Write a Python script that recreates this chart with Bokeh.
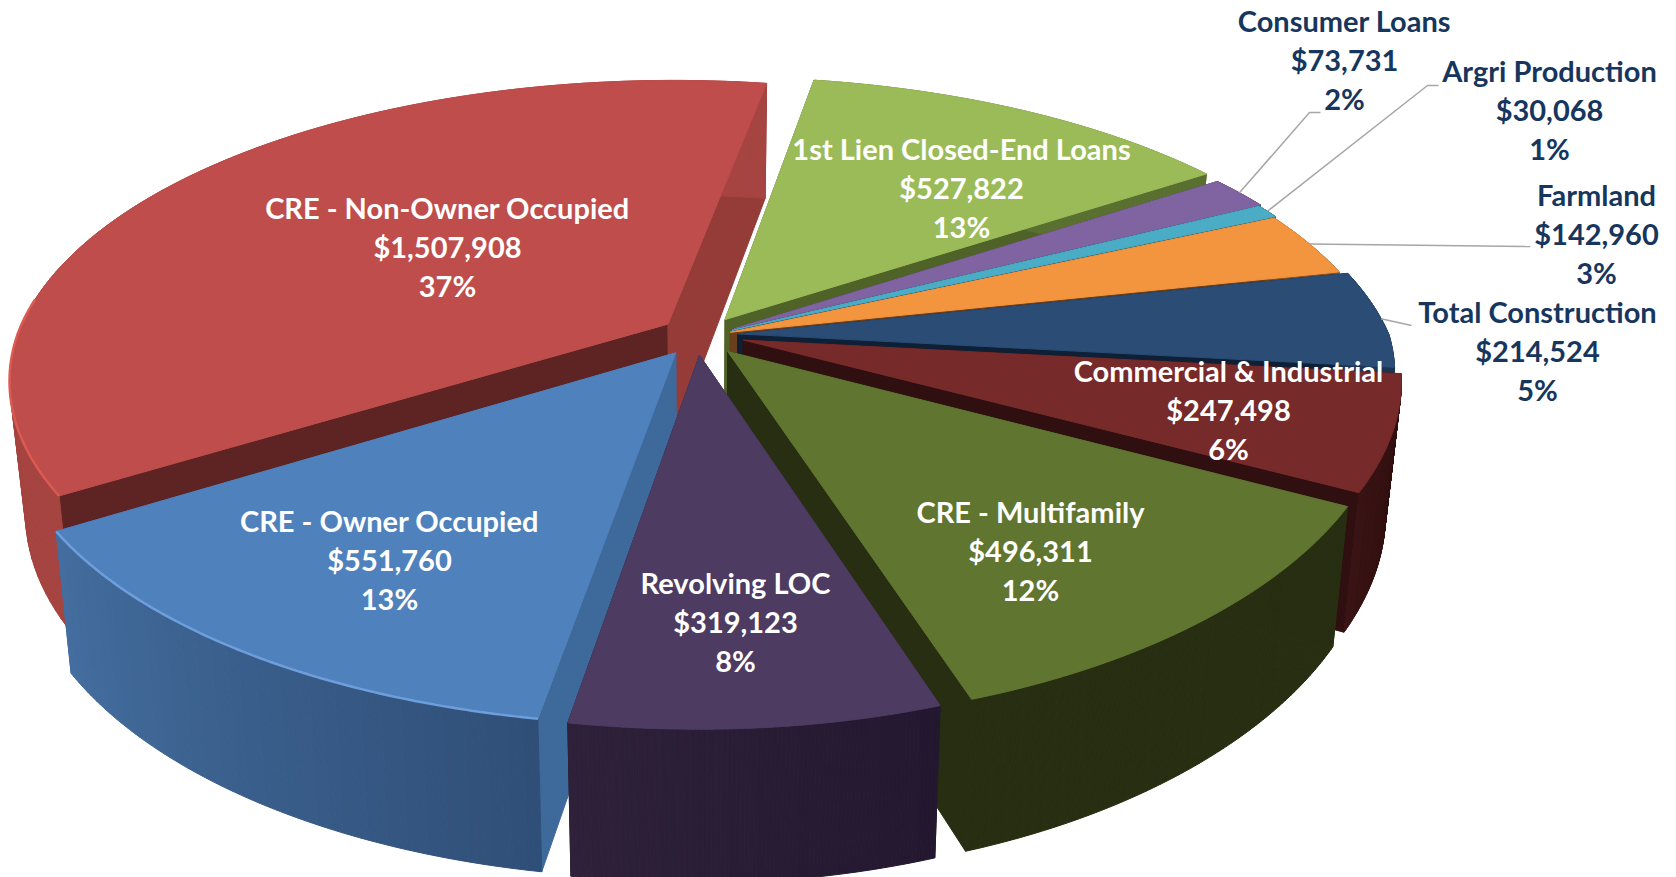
import numpy as np
from bokeh.plotting import figure
from bokeh.models import Range1d
from bokeh.core.properties import value
from bokeh.embed import file_html
from bokeh.resources import INLINE

# ---- data (clockwise from the top of the pie)
categories = ["1st Lien Closed-End Loans", "Consumer Loans", "Argri Production", "Farmland",
              "Total Construction", "Commercial & Industrial", "CRE - Multifamily",
              "Revolving LOC", "CRE - Owner Occupied", "CRE - Non-Owner Occupied"]
amounts = [527822, 73731, 30068, 142960, 214524, 247498, 496311, 319123, 551760, 1507908]
percents = ["13%", "2%", "1%", "3%", "5%", "6%", "12%", "8%", "13%", "37%"]

# ---- style
top_colors = ["#9BBB59", "#8064A2", "#4BACC6", "#F3943F", "#2B4C74", "#772A2A", "#60752F", "#4D3B62", "#4F81BD", "#BE4D4B"]
start_walls = ["#4F6228", "#3F2F55", "#1F5A6B", "#6B3F1C", "#0E2036", "#2F0F0F", "#272E11", "#2D2038", "#3E6A9B", "#5E2323"]
end_walls = ["#4F6228", "#3F2F55", "#1F5A6B", "#6B3F1C", "#0E2036", "#2F0F0F", "#272E11", "#2D2038", "#3E6A9B", "#953B38"]
rim_from = ["#5A7030", "#4A3763", "#28687A", "#8A5022", "#1A3555", "#2F0F0F", "#272E11", "#231830", "#304F78", "#A54440"]
rim_to = ["#5A7030", "#4A3763", "#28687A", "#8A5022", "#1A3555", "#3A1414", "#272E11", "#2E2139", "#446E9F", "#A54440"]
explode = [.065, .045, .04, .035, .035, .04, .07, .07, .07, .07]
nudge = [(-3, 0), (3, 0), (3, 0), (3, 0), (9, -1), (12, 1), (-7, 0), (-9, -1), (-4, 0), (0, 0)]
edge_hi = {8: "#6E9FDC", 9: "#DB5A52"}
label_xy = [(961, 148), (1344, 20), (1549, 70), (1596, 194), (1537, 311), (1228, 370), (1030, 511), (735, 582), (389, 520), (447, 207)]
label_colors = ["white", "#17365D", "#17365D", "#17365D", "#17365D", "white", "white", "white", "white", "white"]
leader_elbows = {1: [(1309, 112), (1320, 112)], 2: [(1427, 85), (1438, 85)], 3: [(1530, 246)], 4: [(1411, 325)]}

CX, CY, R, RT, K = 705, 335, 651, 294, .19
SHEAR_R, SHEAR_L = .06, .01
START = 9.8
LINE = 39.2


def project(u, v):
    s = 1 / (1 - K * v)
    shear = np.maximum(v, 0) * (SHEAR_R * np.maximum(u, 0) + SHEAR_L * np.minimum(u, 0))
    return CX + R * (u - shear) * s, CY + RT * v * s


def extrude(x, y):
    return CX + (x - CX) * .977, y + 110 + .06 * y


def mix(a, b, t):
    ca = np.array([int(a[i:i + 2], 16) for i in (1, 3, 5)], float)
    cb = np.array([int(b[i:i + 2], 16) for i in (1, 3, 5)], float)
    c = ca + (cb - ca) * t
    return "#%02x%02x%02x" % tuple(int(round(q)) for q in c)


vals = np.array(amounts, float)
sweep = vals / vals.sum() * 360
starts = START + np.concatenate([[0], np.cumsum(sweep)[:-1]])
ends = starts + sweep
mids = np.radians((starts + ends) / 2)


def slice_pts(i, deg):
    t = np.radians(deg)
    x, y = project(np.sin(t) + explode[i] * np.sin(mids[i]), -np.cos(t) - explode[i] * np.cos(mids[i]))
    return x + nudge[i][0] * 1.069, y + nudge[i][1] * 1.069


def apex(i):
    x, y = project(explode[i] * np.sin(mids[i]), -explode[i] * np.cos(mids[i]))
    return x + nudge[i][0] * 1.069, y + nudge[i][1] * 1.069


xs, ys, fills = [], [], []


def add(px, py, c):
    xs.append(list(px)); ys.append(list(py)); fills.append(c)


order = [9, 0, 1, 2, 3, 4, 5, 6, 8, 7]
for i in order:
    deg = np.linspace(starts[i], ends[i], 90)
    ax, ay = apex(i)
    rx, ry = slice_pts(i, deg)
    bx, by = extrude(rx, ry)
    abx, aby = extrude(ax, ay)
    # radial wall at the start and end of the slice
    add([ax, rx[0], bx[0], abx], [ay, ry[0], by[0], aby], start_walls[i])
    add([ax, rx[-1], bx[-1], abx], [ay, ry[-1], by[-1], aby], end_walls[i])
    # rim, shaded in small strips
    for j in range(len(deg) - 1):
        c = mix(rim_from[i], rim_to[i], j / (len(deg) - 2))
        add([rx[j], rx[j + 1], bx[j + 1], bx[j]], [ry[j], ry[j + 1], by[j + 1], by[j]], c)
    # top face
    add([ax] + list(rx), [ay] + list(ry), top_colors[i])

p = figure(width=1676, height=877, x_range=Range1d(0, 1676), y_range=Range1d(877, 0),
           output_backend="svg", toolbar_location=None, min_border=0,
           outline_line_color=None, background_fill_color="white", border_fill_color="white")
p.axis.visible = False
p.xgrid.visible = False
p.ygrid.visible = False

p.patches(xs, ys, fill_color=fills, line_color=fills, line_width=1)

for i, c in edge_hi.items():
    deg = np.linspace(starts[i], min(ends[i], 275), 90)
    rx, ry = slice_pts(i, deg)
    p.line(rx, ry, line_color=c, line_width=2.5)

for i, pts in leader_elbows.items():
    mid = np.degrees(mids[i])
    rx, ry = slice_pts(i, mid)
    p.line([rx] + [q[0] for q in pts], [ry] + [q[1] for q in pts], line_color="#A6A6A6", line_width=1.5)

tx, ty, tt, tc = [], [], [], []
for i, name in enumerate(categories):
    x, y = label_xy[i]
    for k, s in enumerate([name, "${:,}".format(amounts[i]), percents[i]]):
        tx.append(x); ty.append(y + k * LINE); tt.append(s); tc.append(label_colors[i])
p.text(tx, ty, text=tt, text_color=tc, text_font=value("Lato"), text_font_style="bold",
       text_font_size="29px", text_align="center", text_baseline="middle")

open("out.html", "w").write(file_html(p, INLINE))
